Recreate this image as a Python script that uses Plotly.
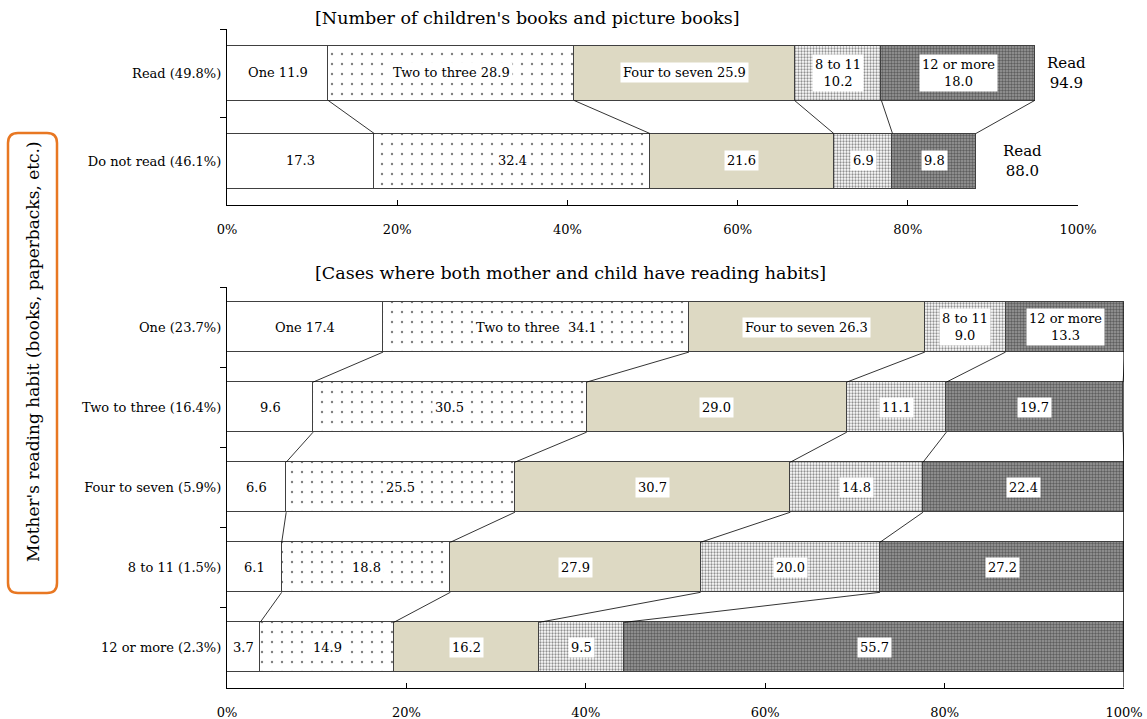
import plotly.graph_objects as go

FONT = "DejaVu Serif"

seg_names = ["One", "Two to three", "Four to seven", "8 to 11", "12 or more"]

# Top chart
top_rows = ["Read (49.8%)", "Do not read (46.1%)"]
top_one = [11.9, 17.3]
top_two_three = [28.9, 32.4]
top_four_seven = [25.9, 21.6]
top_eight_eleven = [10.2, 6.9]
top_twelve_plus = [18.0, 9.8]
top_read_total = ["94.9", "88.0"]

# Bottom chart
bot_rows = ["One (23.7%)", "Two to three (16.4%)", "Four to seven (5.9%)",
            "8 to 11 (1.5%)", "12 or more (2.3%)"]
bot_one = [17.4, 9.6, 6.6, 6.1, 3.7]
bot_two_three = [34.1, 30.5, 25.5, 18.8, 14.9]
bot_four_seven = [26.3, 29.0, 30.7, 27.9, 16.2]
bot_eight_eleven = [9.0, 11.1, 14.8, 20.0, 9.5]
bot_twelve_plus = [13.3, 19.7, 22.4, 27.2, 55.7]

x_ticks = [0, 20, 40, 60, 80, 100]
x_tick_text = ["0%", "20%", "40%", "60%", "80%", "100%"]

top_title = "[Number of children's books and picture books]"
bot_title = "[Cases where both mother and child have reading habits]"
side_title = "Mother's reading habit (books, paperbacks, etc.)"

patterns = [
    dict(shape="", bgcolor="white"),
    dict(shape=".", size=10, solidity=0.045, fgcolor="black", bgcolor="white", fillmode="overlay"),
    dict(shape="", bgcolor="#DDD9C3"),
    dict(shape=".", size=3, solidity=0.45, fgcolor="#222222", bgcolor="white", fillmode="overlay"),
    dict(shape=".", size=3, solidity=0.5, fgcolor="#222222", bgcolor="#9a9a9a", fillmode="overlay"),
]
base_colors = ["white", "white", "#DDD9C3", "white", "#9a9a9a"]

W, H = 1147, 719
BAR_W = 0.625
LBL = 13

fig = go.Figure()

def add_chart(rows, segs, xa, ya, label_texts):
    annotations = []
    shapes = []
    n = len(rows)
    cums = []
    for i in range(n):
        c = [0]
        for s in segs:
            c.append(c[-1] + s[i])
        cums.append(c)
    for k, s in enumerate(segs):
        fig.add_trace(go.Bar(
            y=rows, x=s, orientation="h", width=BAR_W,
            marker=dict(color=base_colors[k], line=dict(color="#404040", width=1),
                        pattern=dict(patterns[k])),
            xaxis=xa, yaxis=ya, showlegend=False, hoverinfo="skip",
        ))
    for i in range(n):
        for k, s in enumerate(segs):
            annotations.append(dict(
                x=cums[i][k] + s[i] / 2, y=rows[i], xref=xa, yref=ya,
                xanchor="center", yanchor="middle",
                text=label_texts(i, k, s[i]), showarrow=False,
                bgcolor="white", borderpad=2,
                font=dict(family=FONT, size=LBL, color="black"),
            ))
    for i in range(n - 1):
        for k in range(1, len(segs) + 1):
            shapes.append(dict(
                type="line", xref=xa, yref=ya,
                x0=cums[i][k], y0=i + BAR_W / 2,
                x1=cums[i + 1][k], y1=i + 1 - BAR_W / 2,
                line=dict(color="black", width=0.8),
            ))
    return annotations, shapes, cums

top_segs = [top_one, top_two_three, top_four_seven, top_eight_eleven, top_twelve_plus]
bot_segs = [bot_one, bot_two_three, bot_four_seven, bot_eight_eleven, bot_twelve_plus]

def top_label(i, k, v):
    if i == 0:
        if k >= 3:
            return f"{seg_names[k]}<br>{v:.1f}"
        return f"{seg_names[k]} {v:.1f}"
    return f"{v:.1f}"

def bot_label(i, k, v):
    if i == 0:
        if k >= 3:
            return f"{seg_names[k]}<br>{v:.1f}"
        if k == 1:
            return f"{seg_names[k]}  {v:.1f}"
        return f"{seg_names[k]} {v:.1f}"
    return f"{v:.1f}"

ann1, sh1, cums_top = add_chart(top_rows, top_segs, "x", "y", top_label)
ann2, sh2, cums_bot = add_chart(bot_rows, bot_segs, "x2", "y2", bot_label)

annotations = ann1 + ann2
shapes = sh1 + sh2

read_shift = [10, 25]
for i in range(len(top_rows)):
    annotations.append(dict(
        x=cums_top[i][-1], y=top_rows[i], xref="x", yref="y",
        text=f"Read<br>{top_read_total[i]}", showarrow=False,
        xanchor="left", yanchor="middle", xshift=read_shift[i],
        font=dict(family=FONT, size=15, color="black"),
    ))

shapes.append(dict(type="line", xref="x2", yref="y2", x0=100, x1=100,
                   y0=-BAR_W / 2, y1=len(bot_rows) - 0.5,
                   line=dict(color="black", width=1.2)))

annotations.append(dict(x=527 / W, y=1 - 18 / H, xref="paper", yref="paper",
                        xanchor="center", yanchor="middle",
                        text=top_title, showarrow=False,
                        font=dict(family=FONT, size=17.5, color="black")))
annotations.append(dict(x=570 / W, y=1 - 273 / H, xref="paper", yref="paper",
                        xanchor="center", yanchor="middle",
                        text=bot_title, showarrow=False,
                        font=dict(family=FONT, size=17.5, color="black")))

x0, x1 = 8 / W, 57 / W
y0, y1 = 1 - 593 / H, 1 - 133 / H
rx, ry = 10 / W, 10 / H
path = (f"M {x0+rx} {y1} L {x1-rx} {y1} Q {x1} {y1} {x1} {y1-ry} "
        f"L {x1} {y0+ry} Q {x1} {y0} {x1-rx} {y0} L {x0+rx} {y0} "
        f"Q {x0} {y0} {x0} {y0+ry} L {x0} {y1-ry} Q {x0} {y1} {x0+rx} {y1} Z")
shapes.append(dict(type="path", xref="paper", yref="paper", path=path,
                   line=dict(color="#E87722", width=2.5)))
annotations.append(dict(x=33 / W, y=1 - 352 / H, xref="paper", yref="paper",
                        xanchor="center", yanchor="middle",
                        text=side_title, textangle=-90, showarrow=False,
                        font=dict(family=FONT, size=17, color="black")))

xaxis_common = dict(range=[0, 100], tickvals=x_ticks, ticktext=x_tick_text,
                    showgrid=False, zeroline=False, showline=True, automargin=False,
                    linecolor="black", linewidth=1.3, ticks="inside", ticklen=5,
                    tickcolor="black", ticklabelstandoff=12,
                    tickfont=dict(family=FONT, size=13, color="black"))
yaxis_common = dict(type="category", autorange="reversed", showgrid=False,
                    zeroline=False, showline=True, linecolor="black", linewidth=1.3,
                    ticks="outside", ticklen=6, tickcolor="black", automargin=False,
                    tickson="boundaries", ticklabelstandoff=2,
                    tickfont=dict(family=FONT, size=13, color="black"))

fig.update_layout(
    width=W, height=H, margin=dict(l=0, r=0, t=0, b=0, pad=0),
    paper_bgcolor="white", plot_bgcolor="white",
    barmode="stack", bargap=0,
    xaxis=dict(domain=[227 / W, 1078 / W], anchor="y", **xaxis_common),
    yaxis=dict(domain=[1 - 205 / H, 1 - 29 / H], anchor="x", **yaxis_common),
    xaxis2=dict(domain=[227 / W, 1124 / W], anchor="y2", **xaxis_common),
    yaxis2=dict(domain=[1 - 688 / H, 1 - 287 / H], anchor="x2", **yaxis_common),
    annotations=annotations, shapes=shapes,
    font=dict(family=FONT),
)

fig.write_html("out.html")
